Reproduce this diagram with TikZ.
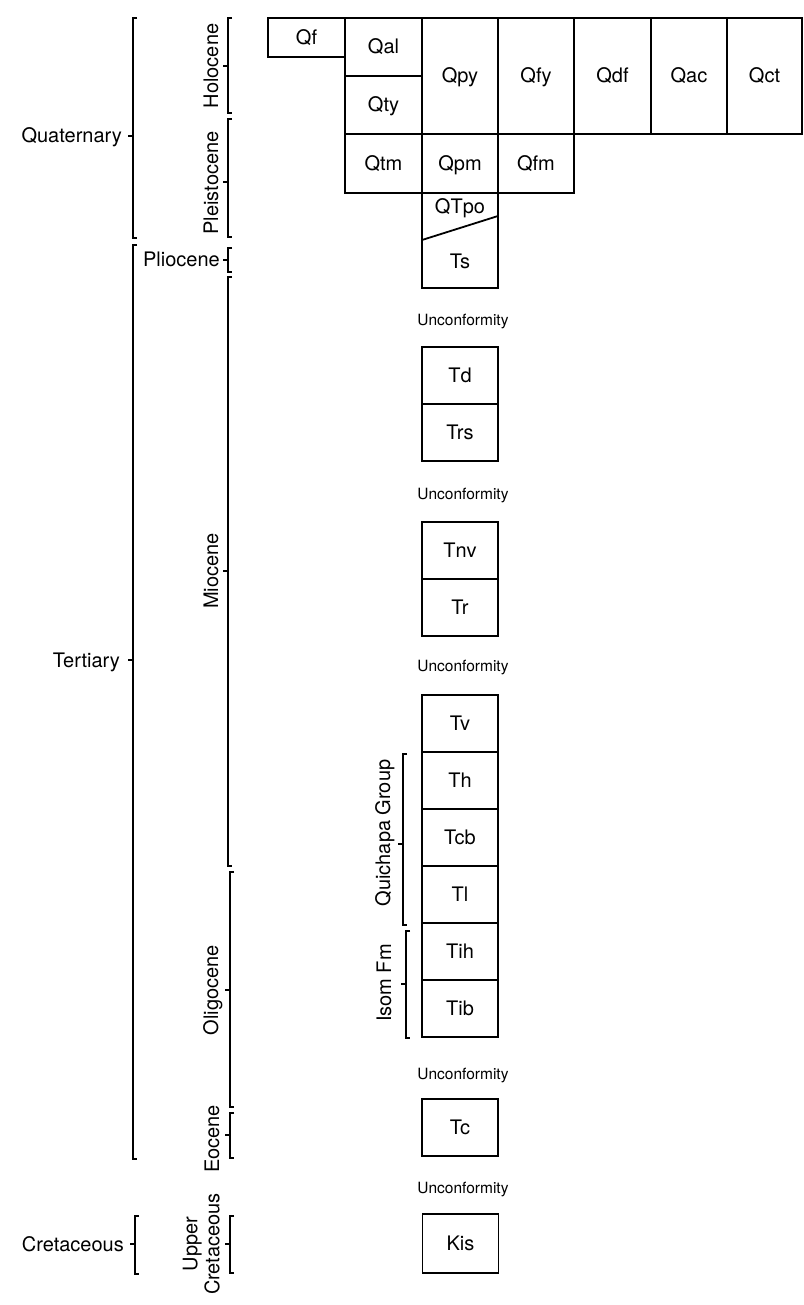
\documentclass[tikz,border=0pt]{standalone}
\usepackage{fontspec}
\setmainfont{TeX Gyre Heros}
\usetikzlibrary{positioning}

\begin{document}
\begin{tikzpicture}[
  x=1pt, y=-1pt,
  font=\fontsize{20}{22}\selectfont,
  unit/.style={draw, line width=1.8pt, inner sep=0pt, outer sep=0pt, minimum width=76pt, minimum height=57pt, text height=14pt, text depth=0pt},
  tag/.style={inner sep=0pt, text height=14pt, text depth=0pt},
  gap/.style={font=\fontsize{15.5}{17}\selectfont, inner sep=0pt},
  period/.style={anchor=base east, inner sep=0pt},
  epoch/.style={rotate=90, anchor=base, inner sep=0pt},
  brk/.style={line width=1.4pt}
]
\useasboundingbox (0,0) rectangle (803,1305);

% Quaternary units
\node[unit, minimum width=77pt, minimum height=39pt] (qf) at (306.5,37.5) {Qf};
\node[unit, minimum width=77pt, minimum height=58pt] (qal) at (383.5,47) {Qal};
\node[unit, minimum width=77pt, minimum height=58pt] (qty) at (383.5,105) {Qty};
\node[unit, minimum width=77pt, minimum height=59pt] (qtm) at (383.5,163.5) {Qtm};
\node[unit, minimum height=116pt] (qpy) at (460,76) {Qpy};
\node[unit, minimum height=59pt] (qpm) at (460,163.5) {Qpm};
\node[unit, minimum height=116pt] (qfy) at (536,76) {Qfy};
\node[unit, minimum height=59pt] (qfm) at (536,163.5) {Qfm};
\node[unit, minimum width=77pt, minimum height=116pt] (qdf) at (612.5,76) {Qdf};
\node[unit, minimum height=116pt] (qac) at (689,76) {Qac};
\node[unit, minimum width=75pt, minimum height=116pt] (qct) at (764.5,76) {Qct};

% QTpo over Ts, split by a sloping contact
\node[unit, minimum height=95pt] (qts) at (460,240.5) {};
\node[tag] (qtpo) at (460,207) {QTpo};
\node[tag] (ts) at (460,262) {Ts};
\draw[line width=1.8pt] ([yshift=48pt]qts.south west) -- ([yshift=72pt]qts.south east);

% Tertiary and Cretaceous units
\node[gap] (unc1) at (463,322) {Unconformity};
\node[unit] (td) at (460,375.5) {Td};
\node[unit, below=0pt of td] (trs) {Trs};

\node[gap] (unc2) at (463,496) {Unconformity};
\node[unit] (tnv) at (460,550.5) {Tnv};
\node[unit, below=0pt of tnv] (tr) {Tr};

\node[gap] (unc3) at (463,668) {Unconformity};
\node[unit] (tv) at (460,723.5) {Tv};
\node[unit, below=0pt of tv] (th) {Th};
\node[unit, below=0pt of th] (tcb) {Tcb};
\node[unit, below=0pt of tcb] (tl) {Tl};
\node[unit, below=0pt of tl] (tih) {Tih};
\node[unit, below=0pt of tih] (tib) {Tib};

\node[gap] (unc4) at (463,1076) {Unconformity};
\node[unit] (tc) at (460,1127.5) {Tc};

\node[gap] (unc5) at (463,1190) {Unconformity};
\node[unit, minimum height=59pt] (kis) at (460.5,1243.5) {Kis};

% periods
\draw[brk] (137,18) -- (133,18) -- (133,238) -- (137,238) (133,136) -- (128,136);
\node[period] (quat) at (122,143) {Quaternary};
\draw[brk] (137,245) -- (133,245) -- (133,1159) -- (137,1159) (133,660) -- (128,660);
\node[period] (tert) at (120,667) {Tertiary};
\draw[brk] (139,1216) -- (135,1216) -- (135,1274) -- (139,1274) (135,1244) -- (130,1244);
\node[period] (cret) at (124,1251) {Cretaceous};

% epochs
\draw[brk] (232,18) -- (228,18) -- (228,113) -- (232,113) (228,66) -- (223,66);
\node[epoch] (holo) at (218,66) {Holocene};
\draw[brk] (232,119) -- (228,119) -- (228,237) -- (232,237) (228,182) -- (223,182);
\node[epoch] (pleis) at (218,183) {Pleistocene};
\draw[brk] (232,248) -- (228,248) -- (228,272) -- (232,272) (228,260) -- (223,260);
\node[period] (plio) at (220,267) {Pliocene};
\draw[brk] (232,277) -- (228,277) -- (228,866) -- (232,866) (228,571) -- (223,571);
\node[epoch] (mio) at (218,571) {Miocene};
\draw[brk] (234,872) -- (230,872) -- (230,1107) -- (234,1107) (230,990) -- (225,990);
\node[epoch] (oligo) at (218,990) {Oligocene};
\draw[brk] (234,1113) -- (230,1113) -- (230,1158) -- (234,1158) (230,1135) -- (225,1135);
\node[epoch] (eo) at (219,1139) {Eocene};
\draw[brk] (234,1216) -- (230,1216) -- (230,1273) -- (234,1273) (230,1244) -- (225,1244);
\node[rotate=90, anchor=south, inner sep=0pt, align=center] (ucret) at (220,1244) {Upper\\Cretaceous};

% groups and formations
\draw[brk] (407,754) -- (403,754) -- (403,925) -- (407,925) (403,844) -- (398,844);
\node[epoch] (quich) at (390,833) {Quichapa Group};
\draw[brk] (410,931) -- (406,931) -- (406,1038) -- (410,1038) (406,984) -- (401,984);
\node[epoch] (isom) at (391,983) {Isom Fm};

\end{tikzpicture}
\end{document}
